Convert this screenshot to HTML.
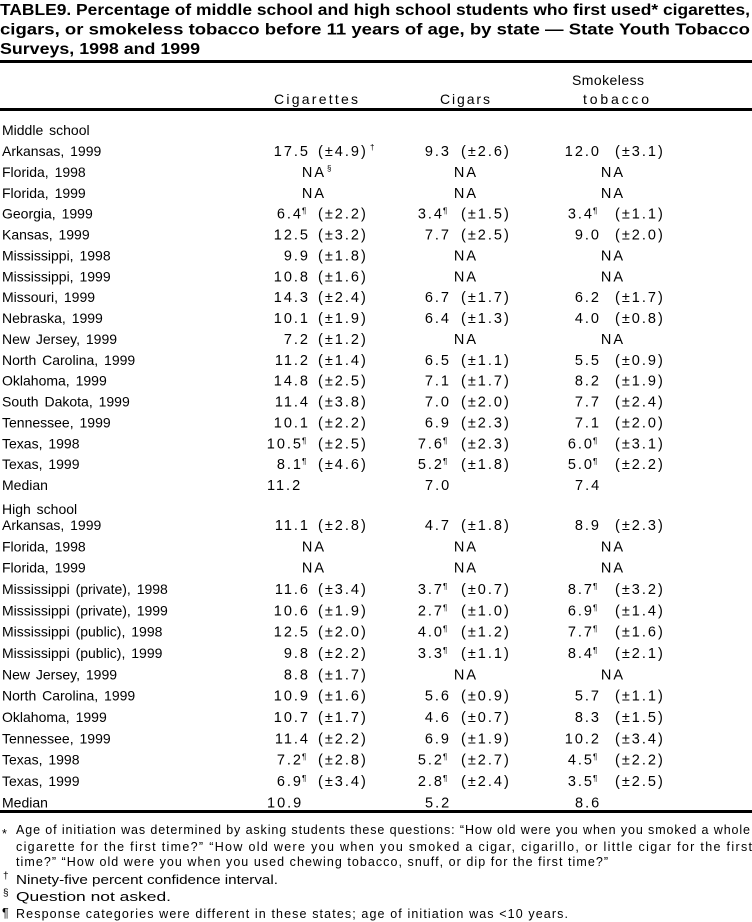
<!DOCTYPE html>
<html><head><meta charset="utf-8"><style>
html,body{margin:0;padding:0;background:#fff;}
svg{display:block;}
text{font-family:"Liberation Sans",Arial,sans-serif;fill:#000;}
.t{font-weight:bold;font-size:15.5px;}
.r{font-size:14px;word-spacing:2px;}
.h{font-size:14px;}
.v{font-size:14.5px;letter-spacing:2px;}
.f{font-size:12.5px;}
.s{font-size:8px;}
</style></head><body>
<svg width="752" height="922" viewBox="0 0 752 922" xmlns="http://www.w3.org/2000/svg">
<text class="t" x="0" y="15" textLength="750" lengthAdjust="spacingAndGlyphs">TABLE9. Percentage of middle school and high school students who first used* cigarettes,</text>
<text class="t" x="0" y="34.5" textLength="750" lengthAdjust="spacingAndGlyphs">cigars, or smokeless tobacco before 11 years of age, by state — State Youth Tobacco</text>
<text class="t" x="0" y="54" textLength="200" lengthAdjust="spacingAndGlyphs">Surveys, 1998 and 1999</text>
<rect x="0" y="60" width="752" height="3"/>
<text class="h" x="572" y="85" textLength="72" lengthAdjust="spacing">Smokeless</text>
<text class="h" x="274" y="104" textLength="84" lengthAdjust="spacing">Cigarettes</text>
<text class="h" x="440" y="104" textLength="50" lengthAdjust="spacing">Cigars</text>
<text class="h" x="583" y="104" textLength="66" lengthAdjust="spacing">tobacco</text>
<rect x="0" y="108" width="752" height="3"/>
<rect x="0" y="810" width="752" height="3"/>
<g id="rows"></g>
<text class="f" x="2" y="838">*</text>
<text class="f" x="16" y="834" textLength="734" lengthAdjust="spacing">Age of initiation was determined by asking students these questions: “How old were you when you smoked a whole</text>
<text class="f" x="16" y="851" textLength="736" lengthAdjust="spacing">cigarette for the first time?” “How old were you when you smoked a cigar, cigarillo, or little cigar for the first</text>
<text class="f" x="16" y="866" textLength="592" lengthAdjust="spacing">time?” “How old were you when you used chewing tobacco, snuff, or dip for the first time?”</text>
<text class="f" x="3" y="879" style="font-size:10px">†</text>
<text class="f" x="16" y="884" textLength="262" lengthAdjust="spacingAndGlyphs">Ninety-five percent confidence interval.</text>
<text class="f" x="3" y="896" style="font-size:10px">§</text>
<text class="f" x="16" y="901" textLength="155" lengthAdjust="spacingAndGlyphs">Question not asked.</text>
<text class="f" x="2" y="917">¶</text>
<text class="f" x="16" y="918" textLength="552" lengthAdjust="spacing">Response categories were different in these states; age of initiation was &lt;10 years.</text>
</svg>
<script>
var ms=[
["Arkansas, 1999","17.5|4.9|†","9.3|2.6","12.0|3.1"],
["Florida, 1998","NA§","NA","NA"],
["Florida, 1999","NA","NA","NA"],
["Georgia, 1999","6.4¶|2.2","3.4¶|1.5","3.4¶|1.1"],
["Kansas, 1999","12.5|3.2","7.7|2.5","9.0|2.0"],
["Mississippi, 1998","9.9|1.8","NA","NA"],
["Mississippi, 1999","10.8|1.6","NA","NA"],
["Missouri, 1999","14.3|2.4","6.7|1.7","6.2|1.7"],
["Nebraska, 1999","10.1|1.9","6.4|1.3","4.0|0.8"],
["New Jersey, 1999","7.2|1.2","NA","NA"],
["North Carolina, 1999","11.2|1.4","6.5|1.1","5.5|0.9"],
["Oklahoma, 1999","14.8|2.5","7.1|1.7","8.2|1.9"],
["South Dakota, 1999","11.4|3.8","7.0|2.0","7.7|2.4"],
["Tennessee, 1999","10.1|2.2","6.9|2.3","7.1|2.0"],
["Texas, 1998","10.5¶|2.5","7.6¶|2.3","6.0¶|3.1"],
["Texas, 1999","8.1¶|4.6","5.2¶|1.8","5.0¶|2.2"],
["Median","M11.2","M7.0","M7.4"]];
var hs=[
["Arkansas, 1999","11.1|2.8","4.7|1.8","8.9|2.3"],
["Florida, 1998","NA","NA","NA"],
["Florida, 1999","NA","NA","NA"],
["Mississippi (private), 1998","11.6|3.4","3.7¶|0.7","8.7¶|3.2"],
["Mississippi (private), 1999","10.6|1.9","2.7¶|1.0","6.9¶|1.4"],
["Mississippi (public), 1998","12.5|2.0","4.0¶|1.2","7.7¶|1.6"],
["Mississippi (public), 1999","9.8|2.2","3.3¶|1.1","8.4¶|2.1"],
["New Jersey, 1999","8.8|1.7","NA","NA"],
["North Carolina, 1999","10.9|1.6","5.6|0.9","5.7|1.1"],
["Oklahoma, 1999","10.7|1.7","4.6|0.7","8.3|1.5"],
["Tennessee, 1999","11.4|2.2","6.9|1.9","10.2|3.4"],
["Texas, 1998","7.2¶|2.8","5.2¶|2.7","4.5¶|2.2"],
["Texas, 1999","6.9¶|3.4","2.8¶|2.4","3.5¶|2.5"],
["Median","M10.9","M5.2","M8.6"]];
var cols=[{r:308,c:318,na:313,m:267},{r:449,c:461,na:465,m:425},{r:599,c:615,na:612,m:575}];
var out="";
function t(x,y,cls,s,anchor){return '<text class="'+cls+'" x="'+x+'" y="'+y+'"'+(anchor?' text-anchor="'+anchor+'"':'')+'>'+s+'</text>';}
function row(r,y){
 out+=t(2,y,"r",r[0]);
 for(var i=0;i<3;i++){var c=cols[i],v=r[i+1];
  if(v.indexOf("NA")==0){
   out+=t(c.na+1,y,"v","NA","middle");
   if(v=="NA§") out+=t(c.na+14,y-6,"s","§");
  } else if(v[0]=="M"){ out+=t(c.m,y,"v",v.slice(1)); }
  else { var p=v.split("|"),val=p[0],pil=false;
   if(val.indexOf("¶")>=0){pil=true;val=val.replace("¶","");}
   if(pil){out+=t(c.r-5,y,"v",val,"end");out+=t(c.r-6,y-5,"s","¶");}
   else out+=t(c.r+2,y,"v",val,"end");
   out+=t(c.c,y,"v","(±"+p[1]+")");
   if(p[2]) out+=t(c.c+52,y-6,"s",p[2]);
  }
 }
}
out+=t(2,135,"r","Middle school");
for(var i=0;i<ms.length;i++) row(ms[i],156+i*20.875);
out+=t(2,514,"r","High school");
for(var i=0;i<hs.length;i++) row(hs[i],530+i*21.33);
document.getElementById("rows").innerHTML=out;
</script>
</body></html>
